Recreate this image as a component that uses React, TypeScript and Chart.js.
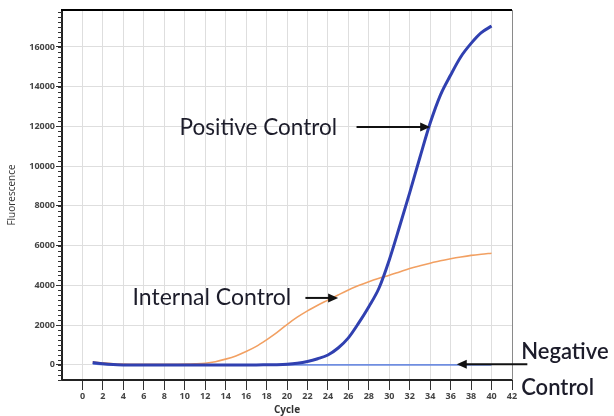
import { useEffect, useRef } from "react";
import Chart from "chart.js/auto";

const cycles = [
  1, 2, 3, 4, 5, 6, 7, 8, 9, 10, 11, 12, 13, 14, 15, 16, 17, 18, 19, 20,
  21, 22, 23, 24, 25, 26, 27, 28, 29, 30, 31, 32, 33, 34, 35, 36, 37, 38, 39, 40,
];

const positiveControl = [
  120, 60, 20, 0, -10, -10, -10, -10, -10, -5, 0, 0, 0, 0, 0, 0, 0, 5, 10, 30,
  80, 170, 310, 500, 850, 1360, 2100, 2930, 3870, 5280, 6950, 8670, 10450, 12170, 13580, 14590, 15510, 16180, 16720, 17050,
];

const internalControl = [
  150, 100, 60, 40, 30, 30, 30, 30, 35, 40, 55, 85, 160, 290, 450, 670, 930, 1260, 1620, 2030,
  2400, 2720, 3000, 3260, 3520, 3770, 3990, 4190, 4360, 4510, 4680, 4850, 4990, 5120, 5240, 5340, 5430, 5510, 5570, 5620,
];

const negativeControl = [
  50, 20, 10, 0, 0, 0, 0, 0, 0, 0, 0, 0, 0, 0, 0, 0, 0, 0, 0, 0,
  0, 0, 0, 0, 0, 0, 0, 0, 0, 0, 0, 0, 0, 0, 0, 0, 0, 0, 0, 0,
];

const xTicks = [0, 2, 4, 6, 8, 10, 12, 14, 16, 18, 20, 22, 24, 26, 28, 30, 32, 34, 36, 38, 40, 42];
const yTicks = [0, 2000, 4000, 6000, 8000, 10000, 12000, 14000, 16000];

const TEXT = "#1c1c2a";

// frame, minor ticks, labels and arrows
const decorations = {
  id: "decorations",
  afterDraw(chart: any) {
    const { ctx, chartArea } = chart;
    const xs = chart.scales.x;
    const ys = chart.scales.y;
    const px = (v: number) => xs.getPixelForValue(v);
    const py = (v: number) => ys.getPixelForValue(v);
    ctx.save();

    ctx.strokeStyle = "#000";
    ctx.lineWidth = 2;
    ctx.beginPath();
    ctx.moveTo(chartArea.left - 1, chartArea.top);
    ctx.lineTo(chartArea.right, chartArea.top);
    ctx.stroke();
    ctx.strokeStyle = "#8a8a8a";
    ctx.lineWidth = 1;
    ctx.beginPath();
    ctx.moveTo(chartArea.right + 0.5, chartArea.top);
    ctx.lineTo(chartArea.right + 0.5, chartArea.bottom);
    ctx.stroke();

    ctx.strokeStyle = "#333";
    ctx.beginPath();
    for (let v = -750; v <= 17750; v += 250) {
      const y = Math.round(py(v)) + 0.5;
      ctx.moveTo(chartArea.left - 4, y);
      ctx.lineTo(chartArea.left, y);
    }
    ctx.stroke();

    const arrow = (x1: number, y1: number, x2: number, y2: number) => {
      const a = Math.atan2(y2 - y1, x2 - x1);
      ctx.strokeStyle = "#111";
      ctx.fillStyle = "#111";
      ctx.lineWidth = 2;
      ctx.beginPath();
      ctx.moveTo(x1, y1);
      ctx.lineTo(x2 - 8 * Math.cos(a), y2 - 8 * Math.sin(a));
      ctx.stroke();
      ctx.beginPath();
      ctx.moveTo(x2, y2);
      ctx.lineTo(x2 - 10 * Math.cos(a) + 4.5 * Math.sin(a), y2 - 10 * Math.sin(a) - 4.5 * Math.cos(a));
      ctx.lineTo(x2 - 10 * Math.cos(a) - 4.5 * Math.sin(a), y2 - 10 * Math.sin(a) + 4.5 * Math.cos(a));
      ctx.closePath();
      ctx.fill();
    };

    ctx.fillStyle = TEXT;
    ctx.textAlign = "left";
    ctx.textBaseline = "middle";
    ctx.font = "22.5px Lato";
    ctx.fillText("Positive Control", px(9.5), py(11920));
    ctx.font = "23px Lato";
    ctx.fillText("Internal Control", px(4.9), py(3370));
    ctx.font = "600 22px Lato";
    ctx.fillText("Negative", px(42.9), py(650));
    ctx.fillText("Control", px(42.9), py(-1160));

    arrow(px(26.8), py(11970), px(34.0), py(11970));
    arrow(px(21.8), py(3370), px(25.0), py(3370));
    arrow(px(43.5), py(30), px(36.6), py(30));

    ctx.restore();
  },
};

export default function App() {
  const canvasRef = useRef<HTMLCanvasElement>(null);

  useEffect(() => {
    if (!canvasRef.current) return;
    const chart = new Chart(canvasRef.current, {
      type: "line",
      data: {
        labels: cycles,
        datasets: [
          {
            label: "Positive Control",
            data: positiveControl,
            borderColor: "#3040b0",
            borderWidth: 3,
            pointRadius: 0,
            cubicInterpolationMode: "monotone",
          },
          {
            label: "Internal Control",
            data: internalControl,
            borderColor: "#f2a062",
            borderWidth: 1.6,
            pointRadius: 0,
            cubicInterpolationMode: "monotone",
          },
          {
            label: "Negative Control",
            data: negativeControl,
            borderColor: "#6f8de0",
            borderWidth: 1.6,
            pointRadius: 0,
            cubicInterpolationMode: "monotone",
          },
        ],
      },
      options: {
        animation: false,
        responsive: true,
        maintainAspectRatio: false,
        layout: { padding: { left: 0, top: 10, right: 102, bottom: 0 } },
        plugins: {
          legend: { display: false },
          tooltip: { enabled: false },
        },
        scales: {
          x: {
            type: "linear",
            min: -2,
            max: 42,
            afterBuildTicks: (scale: any) => {
              scale.ticks = xTicks.map((value) => ({ value }));
            },
            afterFit: (scale: any) => {
              scale.height = 36;
            },
            ticks: {
              color: "#444",
              font: { family: "Open Sans", size: 9, weight: "bold" },
              padding: 1,
              maxRotation: 0,
              autoSkip: false,
              callback: (v: any) => String(v),
            },
            grid: { color: "#dedede", tickColor: "#333", tickLength: 10 },
            border: { color: "#222", width: 2 },
            title: {
              display: true,
              text: "Cycle",
              color: "#333",
              font: { family: "Open Sans", size: 10, weight: "bold" },
              padding: { top: 0, bottom: 0 },
            },
          },
          y: {
            min: -760,
            max: 17860,
            afterBuildTicks: (scale: any) => {
              scale.ticks = yTicks.map((value) => ({ value }));
            },
            afterFit: (scale: any) => {
              scale.width = 62;
            },
            ticks: {
              color: "#444",
              font: { family: "Open Sans", size: 9, weight: "bold" },
              padding: 1,
              autoSkip: false,
              callback: (v: any) => String(v),
            },
            grid: { color: "#dedede", tickColor: "#333", tickLength: 6 },
            border: { color: "#222", width: 2 },
            title: {
              display: true,
              text: "Fluorescence",
              color: "#333",
              font: { family: "Open Sans", size: 10 },
              padding: { top: 6, bottom: 0 },
            },
          },
        },
      },
      plugins: [decorations],
    });
    return () => chart.destroy();
  }, []);

  return (
    <div style={{ position: "fixed", left: 0, top: 0, width: 614, height: 416, background: "#fff" }}>
      <canvas ref={canvasRef} />
    </div>
  );
}
